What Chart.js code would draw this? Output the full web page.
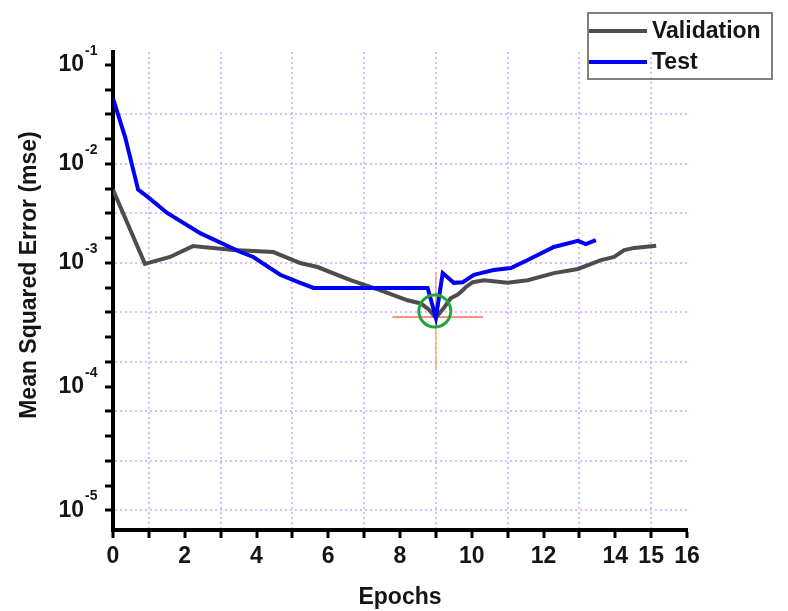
<!DOCTYPE html>
<html>
<head>
<meta charset="utf-8">
<script src="https://cdn.jsdelivr.net/npm/chart.js@4.4.1/dist/chart.umd.min.js"></script>
<style>
  html, body { margin: 0; padding: 0; background: #fff; }
  #wrap { width: 788px; height: 611px; }
</style>
</head>
<body>
<div id="wrap"><canvas id="perf" width="788" height="611"></canvas></div>
<script>
  // training record (epochs / mse)
  var valEpochs = [0, 0.89, 1.59, 2.23, 3.35, 4.47, 5.22, 5.70, 6.62, 7.46, 8.21, 8.58, 8.80, 9.0,
    9.22, 9.41, 9.61, 9.75, 9.83, 10.03, 10.34, 11.0, 11.56, 12.29, 12.96, 13.6, 13.97, 14.25, 14.53, 15.14];
  var valMse = [5.5e-3, 9.8e-4, 1.15e-3, 1.48e-3, 1.35e-3, 1.29e-3, 1.0e-3, 9.1e-4, 6.7e-4, 5.3e-4, 4.2e-4, 3.9e-4, 3.4e-4, 2.8e-4,
    3.5e-4, 4.4e-4, 4.8e-4, 5.3e-4, 5.7e-4, 6.4e-4, 6.7e-4, 6.3e-4, 6.7e-4, 7.9e-4, 8.7e-4, 1.07e-3, 1.15e-3, 1.35e-3, 1.42e-3, 1.49e-3];

  var testEpochs = [0, 0.34, 0.70, 0.95, 1.51, 2.43, 3.55, 3.91, 4.66, 5.22, 5.59, 8.77, 9.0,
    9.19, 9.50, 9.75, 10.06, 10.25, 10.61, 11.09, 11.56, 12.29, 12.96, 13.18, 13.46];
  var testMse = [4.6e-2, 1.86e-2, 5.5e-3, 4.7e-3, 3.2e-3, 2.0e-3, 1.29e-3, 1.15e-3, 7.6e-4, 6.3e-4, 5.6e-4, 5.6e-4, 2.8e-4,
    7.9e-4, 6.3e-4, 6.4e-4, 7.6e-4, 7.9e-4, 8.5e-4, 8.9e-4, 1.07e-3, 1.45e-3, 1.67e-3, 1.55e-3, 1.7e-3];

  // best validation marker
  var bestEpoch = 9;
  var bestMse = 2.85e-4;
  var bestHLine = [7.79, 10.31];
  var bestVLine = [8.1e-4, 8.3e-5];
  var bestCircleMse = 3.27e-4;

  // axes (y in log10 exponents)
  var xTickLabels = [0, 2, 4, 6, 8, 10, 12, 14, 15, 16];
  var yLabelExps = [-1, -2, -3, -4.25, -5.5];
  var yLabelPowers = ["-1", "-2", "-3", "-4", "-5"];
  var yRangeExps = [-5.697, -0.869];

  var TEXT = "#151515";
  var GRID = "rgba(196, 140, 255, 0.6)";
  var FONT = "'Liberation Sans', Arial, sans-serif";

  function pts(xs, ys) {
    return xs.map(function (x, i) { return { x: x, y: ys[i] }; });
  }

  function expOf(v) { return Math.log10(v); }

  var superscripts = {
    id: "superscripts",
    afterDraw: function (chart) {
      var s = chart.scales.y;
      var ctx = chart.ctx;
      ctx.save();
      ctx.font = "bold 14px " + FONT;
      ctx.fillStyle = TEXT;
      ctx.textAlign = "left";
      ctx.textBaseline = "middle";
      yLabelExps.forEach(function (e, i) {
        var py = s.getPixelForValue(Math.pow(10, e));
        ctx.fillText(yLabelPowers[i], s.right - 28, py - 14);
      });
      ctx.restore();
    }
  };

  var boxLegend = {
    id: "boxLegend",
    afterDraw: function (chart) {
      var ctx = chart.ctx;
      var items = chart.data.datasets.filter(function (d) { return d.inLegend; });
      ctx.save();
      ctx.strokeStyle = "#808080";
      ctx.lineWidth = 2;
      ctx.strokeRect(588, 13, 184, 66);
      ctx.font = "bold 23px " + FONT;
      ctx.textBaseline = "middle";
      ctx.fillStyle = TEXT;
      items.forEach(function (d, i) {
        var y = 31 + i * 31;
        ctx.strokeStyle = d.borderColor;
        ctx.lineWidth = 4;
        ctx.beginPath();
        ctx.moveTo(589, y);
        ctx.lineTo(647, y);
        ctx.stroke();
        ctx.fillText(d.label, 652, y + 1);
      });
      ctx.restore();
    }
  };

  new Chart(document.getElementById("perf"), {
    type: "line",
    data: {
      datasets: [
        {
          label: "best",
          data: [{ x: bestEpoch - 0.03, y: bestCircleMse }],
          showLine: false,
          pointRadius: 16,
          pointBorderWidth: 3,
          pointBorderColor: "#1fa53a",
          pointBackgroundColor: "rgba(0,0,0,0)",
          order: 0
        },
        {
          label: "Validation",
          inLegend: true,
          data: pts(valEpochs, valMse),
          borderColor: "#4d4d4d",
          borderWidth: 4,
          pointRadius: 0,
          tension: 0,
          order: 2
        },
        {
          label: "Test",
          inLegend: true,
          data: pts(testEpochs, testMse),
          borderColor: "#0000f5",
          borderWidth: 4,
          pointRadius: 0,
          tension: 0,
          order: 1
        },
        {
          label: "best-h",
          data: [{ x: bestHLine[0], y: bestMse }, { x: bestHLine[1], y: bestMse }],
          borderColor: "#ff6a5a",
          borderWidth: 1.5,
          pointRadius: 0,
          order: 3
        },
        {
          label: "best-v",
          data: [{ x: bestEpoch, y: bestVLine[0] }, { x: bestEpoch, y: bestVLine[1] }],
          borderColor: "#f4a640",
          borderWidth: 1.2,
          pointRadius: 0,
          order: 3
        }
      ]
    },
    plugins: [superscripts, boxLegend],
    options: {
      responsive: false,
      animation: false,
      devicePixelRatio: 1,
      layout: { padding: { top: 52, right: 101, left: 0, bottom: 0 } },
      plugins: {
        legend: { display: false },
        tooltip: { enabled: false }
      },
      scales: {
        x: {
          type: "linear",
          min: 0,
          max: 16,
          afterFit: function (s) { s.height = 81; },
          ticks: {
            stepSize: 1,
            autoSkip: false,
            maxRotation: 0,
            padding: 5,
            color: TEXT,
            font: { family: FONT, size: 23, weight: "bold" },
            callback: function (v) {
              return xTickLabels.indexOf(v) >= 0 ? String(v) : "";
            }
          },
          grid: {
            color: function (c) {
              return c.tick && c.tick.value % 2 === 1 ? GRID : "rgba(0,0,0,0)";
            },
            lineWidth: 2,
            tickColor: "#000",
            tickWidth: 3,
            tickLength: 8
          },
          border: { display: true, color: "#000", width: 4, dash: [2, 3] },
          title: {
            display: true,
            text: "Epochs",
            color: TEXT,
            font: { family: FONT, size: 23, weight: "bold" },
            padding: { top: 0, bottom: 0 }
          }
        },
        y: {
          type: "logarithmic",
          bounds: "data",
          min: Math.pow(10, yRangeExps[0]),
          max: Math.pow(10, yRangeExps[1]),
          afterFit: function (s) { s.width = 113; },
          afterBuildTicks: function (s) {
            var t = [];
            for (var e = -1; e >= -5.5 - 1e-9; e -= 0.25) t.push({ value: Math.pow(10, e) });
            s.ticks = t;
          },
          ticks: {
            autoSkip: false,
            padding: 21,
            color: TEXT,
            font: { family: FONT, size: 23, weight: "bold" },
            callback: function (v) {
              var e = expOf(v);
              for (var i = 0; i < yLabelExps.length; i++) {
                if (Math.abs(e - yLabelExps[i]) < 0.01) return "10";
              }
              return "";
            }
          },
          grid: {
            color: function (c) {
              if (!c.tick) return "rgba(0,0,0,0)";
              var e = expOf(c.tick.value);
              var half = Math.abs(e * 2 - Math.round(e * 2)) < 0.01;
              return half && e < -1.4 ? GRID : "rgba(0,0,0,0)";
            },
            lineWidth: 2,
            tickColor: "#000",
            tickWidth: 3,
            tickLength: 8
          },
          border: { display: true, color: "#000", width: 4, dash: [2, 3] },
          title: {
            display: true,
            text: "     Mean Squared Error (mse)",
            color: TEXT,
            font: { family: FONT, size: 23, weight: "bold" },
            padding: { top: 16, bottom: 0 }
          }
        }
      }
    }
  });
</script>
</body>
</html>
